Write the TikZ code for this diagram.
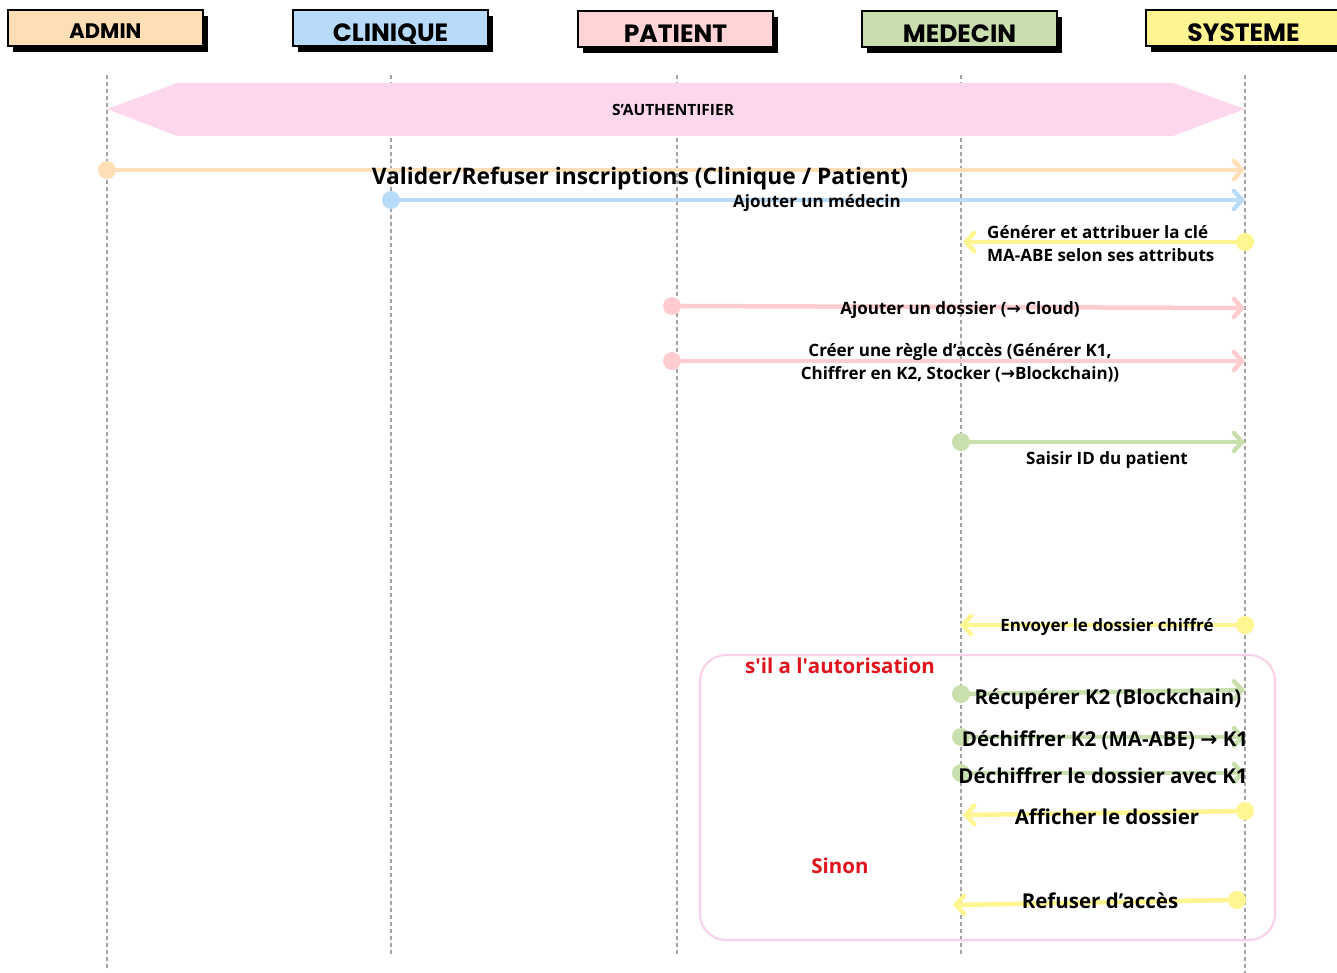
\documentclass[tikz,border=0pt]{standalone}
\usepackage{fontspec}
\setmainfont{Open Sans}
\newfontfamily\headfont{Poppins}
\newfontfamily\symfont{DejaVu Sans}
\usetikzlibrary{arrows.meta,shadows}

\newcommand\rarrow{{\symfont\bfseries →}}

\definecolor{cAdmin}{HTML}{FFDDB5}
\definecolor{cClin}{HTML}{B7DAF8}
\definecolor{cPat}{HTML}{FFD4D7}
\definecolor{cMed}{HTML}{C9DEAE}
\definecolor{cSys}{HTML}{FFF48F}
\definecolor{lPeach}{HTML}{FFDFB8}
\definecolor{lBlue}{HTML}{B9DCFA}
\definecolor{lPink}{HTML}{FFCDD0}
\definecolor{lGreen}{HTML}{C8DFAE}
\definecolor{lYellow}{HTML}{FFF591}
\definecolor{banner}{HTML}{FCD7EE}
\definecolor{frame}{HTML}{FBCFE8}
\definecolor{condred}{HTML}{E0141C}
\definecolor{lifegray}{HTML}{A3A3A3}

\tikzset{
  head/.style={draw=black, line width=2pt, fill=#1, minimum width=195pt,
    minimum height=36pt, inner sep=0pt, text height=26.5pt, text depth=0pt,
    font=\headfont\bfseries\fontsize{25}{28}\selectfont,
    drop shadow={shadow xshift=5pt, shadow yshift=-6pt, opacity=1, fill=black}},
  life/.style={draw=lifegray, line width=1.3pt, dash pattern=on 4pt off 3pt},
  msg/.style={draw=#1, line width=4.5pt, line cap=round,
    -{Straight Barb[length=8pt, width=18pt, line cap=round]}},
  dot/.style={circle, fill=#1, minimum size=18pt, inner sep=0pt},
  lbl/.style={font=\bfseries\fontsize{17}{23}\selectfont, inner sep=0pt, align=center},
  biglbl/.style={font=\bfseries\fontsize{20.5}{24}\selectfont, inner sep=0pt, align=center},
  cond/.style={font=\bfseries\fontsize{20.5}{24}\selectfont, text=condred, inner sep=0pt}
}

\begin{document}
\begin{tikzpicture}[x=1pt, y=-1pt]
\useasboundingbox (0,0) rectangle (1337,973);
\fill[white] (0,0) rectangle (1337,973);

% lifelines
\coordinate (adminTop) at (107,75);   \coordinate (adminBot) at (107,971);
\coordinate (clinTop)  at (391,75);   \coordinate (clinBot)  at (391,955);
\coordinate (patTop)   at (677,75);   \coordinate (patBot)   at (677,955);
\coordinate (medTop)   at (961,75);   \coordinate (medBot)   at (961,955);
\coordinate (sysTop)   at (1245,75);  \coordinate (sysBot)   at (1245,973);
\foreach \a in {admin,clin,pat,med,sys}
  \draw[life] (\a Top) -- (\a Bot);

% actor headers
\node[head=cAdmin, font=\headfont\bfseries\fontsize{21}{24}\selectfont, text height=20.3pt] (hAdmin) at (105.5,28) {ADMIN};
\node[head=cClin]  (hClin)  at (390.5,28) {CLINIQUE};
\node[head=cPat]   (hPat)   at (675.5,29) {PATIENT};
\node[head=cMed]   (hMed)   at (959.5,29) {MEDECIN};
\node[head=cSys]   (hSys)   at (1243.5,28) {SYSTEME};

% authentication banner
\fill[banner] (107,109) -- (177,83) -- (1173,83) -- (1245,109) -- (1173,136) -- (177,136) -- cycle;
\node[font=\bfseries\fontsize{15.5}{18}\selectfont, inner sep=0pt] (auth) at (673,110) {S’AUTHENTIFIER};

% conditional frame
\draw[frame, line width=2pt, rounded corners=26pt] (700,655) rectangle (1275,940);

% messages
\node[dot=lPeach] (d1) at (107,170) {};
\coordinate (t1) at (1245,170);
\draw[msg=lPeach] (d1.center) -- (t1);
\node[lbl, font=\bfseries\fontsize{22.8}{26}\selectfont] (m1) at (640,179) {Valider/Refuser inscriptions (Clinique / Patient)};

\node[dot=lBlue] (d2) at (391,200) {};
\coordinate (t2) at (1245,200);
\draw[msg=lBlue] (d2.center) -- (t2);
\node[lbl] (m2) at (817,203) {Ajouter un médecin};

\node[dot=lYellow] (d3) at (1245,242) {};
\coordinate (t3) at (963,242);
\draw[msg=lYellow] (d3.center) -- (t3);
\node[lbl, align=left, anchor=west] (m3) at (987,244) {Générer et attribuer la clé\\MA-ABE selon ses attributs};

\node[dot=lPink] (d4) at (672,306) {};
\coordinate (t4) at (1245,308);
\draw[msg=lPink] (d4.center) -- (t4);
\node[lbl] (m4) at (960,310) {Ajouter un dossier (\rarrow\ Cloud)};

\node[dot=lPink] (d5) at (672,361) {};
\coordinate (t5) at (1245,361);
\draw[msg=lPink] (d5.center) -- (t5);
\node[lbl] (m5) at (960,363) {Créer une règle d’accès (Générer K1,\\Chiffrer en K2, Stocker (\rarrow Blockchain))};

\node[dot=lGreen] (d6) at (961,442) {};
\coordinate (t6) at (1245,442);
\draw[msg=lGreen] (d6.center) -- (t6);
\node[lbl] (m6) at (1107,460) {Saisir ID du patient};

\node[dot=lYellow] (d7) at (1245,625) {};
\coordinate (t7) at (960,625);
\draw[msg=lYellow] (d7.center) -- (t7);
\node[lbl] (m7) at (1107,627) {Envoyer le dossier chiffré};

\node[cond] (c1) at (840,666) {s\textquotesingle il a l\textquotesingle autorisation};

\node[dot=lGreen] (d8) at (961,694) {};
\coordinate (t8) at (1245,690);
\draw[msg=lGreen] (d8.center) -- (t8);
\node[biglbl] (m8) at (1108,699) {Récupérer K2 (Blockchain)};

\node[dot=lGreen] (d9) at (961,737) {};
\coordinate (t9) at (1245,737);
\draw[msg=lGreen] (d9.center) -- (t9);
\node[biglbl] (m9) at (1105,740) {Déchiffrer K2 (MA-ABE) \rarrow\ K1};

\node[dot=lGreen] (d10) at (961,773) {};
\coordinate (t10) at (1245,773);
\draw[msg=lGreen] (d10.center) -- (t10);
\node[biglbl] (m10) at (1103,776) {Déchiffrer le dossier avec K1};

\node[dot=lYellow] (d11) at (1245,811) {};
\coordinate (t11) at (963,815);
\draw[msg=lYellow] (d11.center) -- (t11);
\node[biglbl] (m11) at (1107,817) {Afficher le dossier};

\node[cond] (c2) at (840,866) {Sinon};

\node[dot=lYellow] (d12) at (1237,900) {};
\coordinate (t12) at (953,905);
\draw[msg=lYellow] (d12.center) -- (t12);
\node[biglbl] (m12) at (1100,901) {Refuser d’accès};
\end{tikzpicture}
\end{document}
